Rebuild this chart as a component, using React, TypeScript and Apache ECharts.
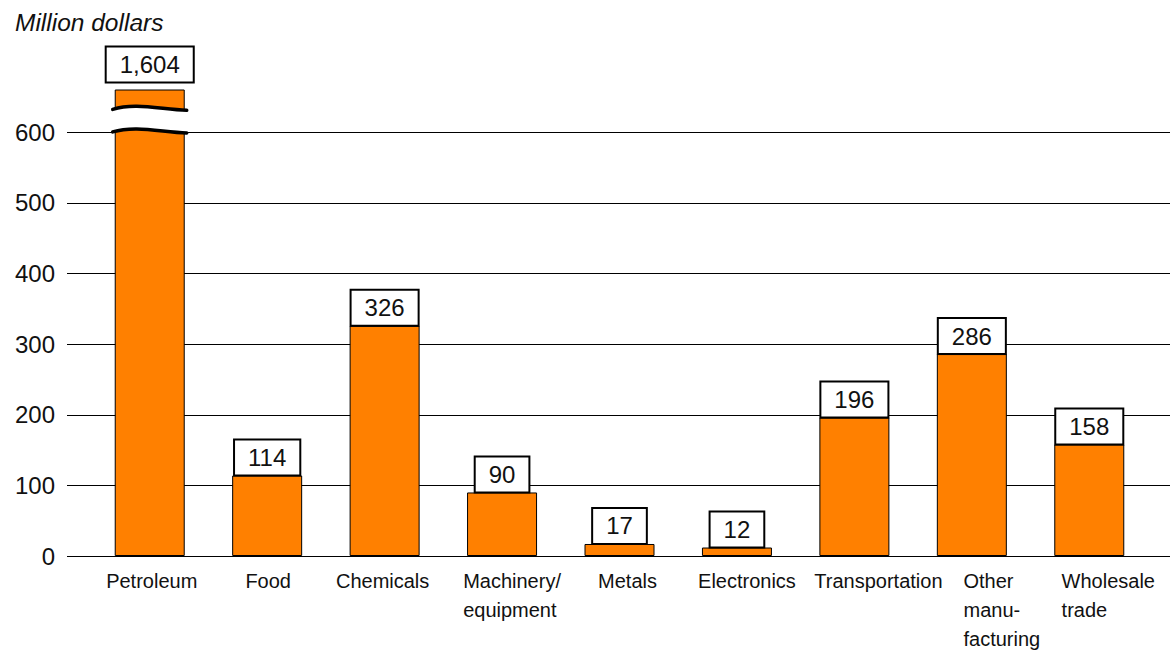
import React, { useEffect, useRef } from "react";
import * as echarts from "echarts";

const categories = [
  "Petroleum",
  "Food",
  "Chemicals",
  "Machinery/\nequipment",
  "Metals",
  "Electronics",
  "Transportation",
  "Other\nmanu-\nfacturing",
  "Wholesale\ntrade",
];
const values = [1604, 114, 326, 90, 17, 12, 196, 286, 158];
// horizontal shift (px) of each category label, as seen in the source
const labelShift = [2, 1, -2, 10, 8, 10, 24, 30, 19];
const yTicks = [0, 100, 200, 300, 400, 500, 600];
const axisMax = 660;
const breakFrom = 602;
const breakTo = 634;
const title = "Million dollars";

const FONT = "'Liberation Sans', Arial, sans-serif";

export default function App() {
  const ref = useRef<HTMLDivElement>(null);
  useEffect(() => {
    if (!ref.current) return;
    const chart = echarts.init(ref.current, undefined, { renderer: "svg" });
    const gridTop = 90;
    const gridBottom = 97;

    const catData = categories.map((c, i) => {
      const s = labelShift[i];
      return {
        value: c,
        textStyle: {
          padding: s >= 0 ? [0, 0, 0, 2 * s] : [0, -2 * s, 0, 0],
        },
      };
    });

    const option: any = {
      animation: false,
      backgroundColor: "#fff",
      title: {
        text: title,
        left: 10,
        top: 5,
        textStyle: {
          fontFamily: FONT,
          fontStyle: "italic",
          fontWeight: "normal",
          fontSize: 24.5,
          color: "#111",
        },
      },
      grid: [
        { left: 67, right: 0, top: gridTop, bottom: gridBottom },
        { left: 91, right: 22, top: gridTop, bottom: gridBottom },
      ],
      xAxis: [
        { type: "category", gridIndex: 0, data: categories, show: false },
        {
          type: "category",
          gridIndex: 1,
          data: catData,
          axisLine: { show: false },
          axisTick: { show: false },
          axisLabel: {
            interval: 0,
            margin: 10,
            formatter: (v: string) =>
              v
                .split("\n")
                .map((l) => "{l|" + l + "}")
                .join("\n"),
            rich: {
              l: {
                align: "left",
                fontFamily: FONT,
                fontSize: 20,
                lineHeight: 29,
                color: "#111",
              },
            },
          },
        },
      ],
      yAxis: [
        {
          type: "value",
          gridIndex: 0,
          min: 0,
          max: axisMax,
          interval: 100,
          axisLine: { show: false },
          axisTick: { show: false },
          axisLabel: {
            margin: 12,
            fontFamily: FONT,
            fontSize: 24,
            color: "#111",
            showMaxLabel: false,
            formatter: (v: number) => (yTicks.includes(v) ? String(v) : ""),
          },
          splitLine: {
            show: true,
            showMaxLine: false,
            lineStyle: { color: "#000", width: 1 },
          },
        },
        {
          type: "value",
          gridIndex: 1,
          min: 0,
          max: axisMax,
          interval: 100,
          show: false,
          splitLine: { show: false },
        },
      ],
      series: [
        {
          type: "bar",
          xAxisIndex: 1,
          yAxisIndex: 1,
          barWidth: 70,
          z: 2,
          data: values.map((v, i) => ({
            value: v,
            label: { distance: i === 0 ? 8 : 1 },
          })),
          itemStyle: { color: "#FF8000", borderColor: "#000", borderWidth: 1 },
          label: {
            show: true,
            position: "top",
            formatter: (p: any) => Number(p.value).toLocaleString("en-US"),
            fontFamily: FONT,
            fontSize: 24,
            lineHeight: 28,
            color: "#111",
            backgroundColor: "#fff",
            borderColor: "#000",
            borderWidth: 2,
            padding: [3, 13, 3, 13],
          },
        },
        {
          type: "custom",
          xAxisIndex: 1,
          yAxisIndex: 1,
          z: 5,
          data: [[0, breakFrom, breakTo]],
          renderItem: (params: any, api: any) => {
            const idx = api.value(0);
            const lo = api.coord([idx, api.value(1)]);
            const hi = api.coord([idx, api.value(2)]);
            const cx = lo[0];
            const xl = cx - 37;
            const xr = cx + 37;
            const wave = (y: number) => ({
              x1: xl,
              y1: y + 1,
              cpx1: xl + 22,
              cpy1: y - 6,
              cpx2: xr - 26,
              cpy2: y + 1,
              x2: xr,
              y2: y + 2,
            });
            const u = wave(hi[1]);
            const d = wave(lo[1]);
            const pathData =
              `M${u.x1},${u.y1} C${u.cpx1},${u.cpy1} ${u.cpx2},${u.cpy2} ${u.x2},${u.y2} ` +
              `L${d.x2},${d.y2} C${d.cpx2},${d.cpy2} ${d.cpx1},${d.cpy1} ${d.x1},${d.y1} Z`;
            return {
              type: "group",
              children: [
                {
                  type: "path",
                  shape: { pathData },
                  style: { fill: "#fff", stroke: null },
                },
                {
                  type: "bezierCurve",
                  shape: u,
                  style: { fill: null, stroke: "#000", lineWidth: 3.5, lineCap: "round" },
                },
                {
                  type: "bezierCurve",
                  shape: d,
                  style: { fill: null, stroke: "#000", lineWidth: 3.5, lineCap: "round" },
                },
              ],
            };
          },
        },
      ],
    };
    chart.setOption(option);
    return () => chart.dispose();
  }, []);
  return (
    <div
      ref={ref}
      style={{ position: "fixed", left: 0, top: 0, width: 1170, height: 653 }}
    />
  );
}
